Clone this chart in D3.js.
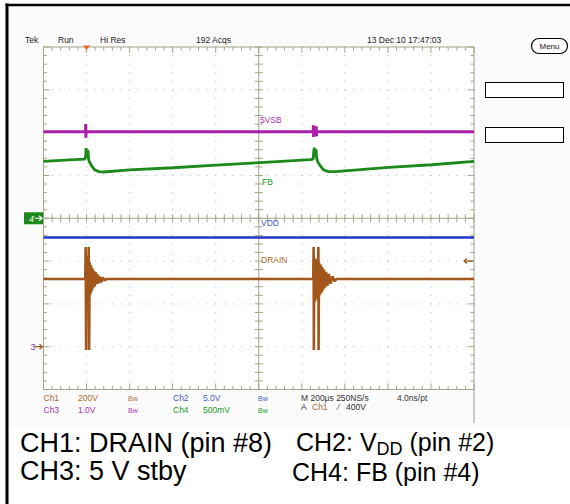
<!DOCTYPE html>
<html><head><meta charset="utf-8">
<script src="https://cdn.jsdelivr.net/npm/d3@7/dist/d3.min.js"></script>
<style>body{margin:0;background:#fff}svg{display:block}</style>
</head><body>
<svg id="chart" width="570" height="504"></svg>
<script>
// ---------------- data ----------------
// time in µs relative to the trigger, 200 µs/div, 10 divisions
const timeDomain = [-200, 1800];
const timeDivisions = [-200, 0, 200, 400, 600, 800, 1000, 1200, 1400, 1600, 1800];
const vertDivisions = [-4, -3, -2, -1, 0, 1, 2, 3, 4];

// channel settings
const channelNames = ["Ch1", "Ch2", "Ch3", "Ch4"];
const traceLabels = ["DRAIN", "VDD", "5VSB", "FB"];
const voltsPerDiv = [200, 5, 1, 0.5];
const groundDiv = [-3, -3, -3, 0];
const channelColors = ["#a2561c", "#2336c2", "#aa1eaa", "#1b8a1b"];
const readoutColors = ["#b06a30", "#4a5ac8", "#b030b0", "#229a2a"];

// CH1 DRAIN (V)
const ch1Drain = [
  [-200, 316], [-6, 316], [-4, 466], [-2, -16], [0, 412], [3, 216], [5, 422], [7.5, 226],
  [10, 466], [12, -16], [14.5, 394], [17.7, 244], [21, 380], [24, 258], [27.5, 366], [31, 272],
  [34.5, 356], [38, 282], [42, 348], [47, 292], [52, 338], [56, 296], [61, 328], [68, 300],
  [75, 324], [84, 310], [94, 316],
  [1053, 316], [1055, 466], [1056, -16], [1058, 416], [1061, 210], [1064, 410], [1067, 220],
  [1070, 400], [1074, 230], [1077, 466], [1078, -16], [1080, 396], [1084, 240], [1088, 384],
  [1092, 252], [1095.5, 372], [1099, 264], [1103.5, 360], [1108, 276], [1113, 350], [1119, 284],
  [1126, 340], [1133, 294], [1143, 328], [1152, 306], [1161, 316], [1800, 316]
];
// CH2 VDD (V)
const ch2Vdd = [[-200, 12.75], [0, 12.75], [600, 12.75], [1060, 12.75], [1800, 12.75]];
// CH3 5 V standby (V)
const ch3Stby = [
  [-200, 5.02], [-5, 5.02], [-4, 5.20], [-3, 4.88], [-2, 5.02],
  [1053, 5.02], [1054, 5.17], [1055, 4.90], [1056, 5.02],
  [1066, 5.02], [1067, 5.15], [1068, 4.92], [1069, 5.02], [1800, 5.02]
];
// CH4 FB (V)
const ch4Fb = [
  [-200, 0.665], [-100, 0.68], [-8, 0.69], [-4, 0.73], [-2, 0.82], [0, 0.70], [6, 0.80],
  [10, 0.68], [14, 0.655], [24, 0.61], [38, 0.565], [56, 0.545], [80, 0.54], [201, 0.565],
  [401, 0.59], [602, 0.62], [807, 0.65], [1040, 0.685], [1053, 0.69], [1055, 0.77],
  [1058, 0.825], [1061, 0.725], [1066, 0.805], [1069, 0.70], [1075, 0.655], [1087, 0.61],
  [1101, 0.565], [1124, 0.545], [1157, 0.545], [1404, 0.595], [1604, 0.625], [1800, 0.665]
];

const triggerTime = 0;
const triggerLevel = 400; // V on Ch1

const headerTexts = ["Tek", "Run", "Hi Res", "192 Acqs", "13 Dec 10 17:47:03"];
const readoutRow1 = ["Ch1", "200V", "Bw", "Ch2", "5.0V", "Bw"];
const readoutRow2 = ["Ch3", "1.0V", "Bw", "Ch4", "500mV", "Bw"];
const horizReadout = ["M 200\u00b5s 250NS/s", "4.0ns/pt"];
const triggerReadout = ["A", "Ch1", "\u2044", "400V"];
const captionLeft = ["CH1: DRAIN (pin #8)", "CH3: 5 V stby"];
const captionRight = ["CH2: V", "DD", " (pin #2)", "CH4: FB (pin #4)"];

// ---------------- drawing ----------------
const svg = d3.select("#chart");
const L = 43.5, R = 474, T = 47, B = 389.5;
const x = d3.scaleLinear().domain(timeDomain).range([L, R]);
const yDiv = d3.scaleLinear().domain([-4, 4]).range([B, T]);
const cx = x(800), cy = yDiv(0);
const scopeFont = "'Liberation Sans Narrow','Liberation Sans',Arial,sans-serif";

// screenshot background
svg.append("rect").attr("x", 8).attr("y", 6).attr("width", 562).attr("height", 420).attr("fill", "#fbfbfb");
svg.append("rect").attr("x", L).attr("y", T).attr("width", R - L).attr("height", B - T).attr("fill", "#fff");

// outer black frame
svg.append("line").attr("x1", 7).attr("x2", 7).attr("y1", 3.5).attr("y2", 504).attr("stroke", "#000").attr("stroke-width", 3);
svg.append("line").attr("x1", 5.5).attr("x2", 570).attr("y1", 5).attr("y2", 5).attr("stroke", "#000").attr("stroke-width", 2.5);

// graticule dots
const g = svg.append("g");
const minorT = d3.range(timeDomain[0], timeDomain[1] + 1, 40);
const minorV = d3.range(-4, 4.001, 0.2);
timeDivisions.slice(1, -1).forEach(t => {
  if (t === 800) return;
  minorV.forEach(v => g.append("rect").attr("x", x(t) - 0.5).attr("y", yDiv(v) - 0.5).attr("width", 1.1).attr("height", 1.1).attr("fill", "#bcbcbc"));
});
vertDivisions.slice(1, -1).forEach(v => {
  if (v === 0) return;
  minorT.forEach(t => g.append("rect").attr("x", x(t) - 0.5).attr("y", yDiv(v) - 0.5).attr("width", 1.1).attr("height", 1.1).attr("fill", "#bcbcbc"));
});
const gridCol = "#a4a488";
// frame
g.append("rect").attr("x", L).attr("y", T).attr("width", R - L).attr("height", B - T).attr("fill", "none").attr("stroke", gridCol).attr("stroke-width", 1);
// center lines
g.append("line").attr("x1", L).attr("x2", R).attr("y1", cy).attr("y2", cy).attr("stroke", gridCol);
g.append("line").attr("x1", cx).attr("x2", cx).attr("y1", T).attr("y2", B).attr("stroke", gridCol);
// ticks
minorT.forEach(t => {
  const major = timeDivisions.includes(t);
  const len = major ? 6 : 3.5;
  g.append("line").attr("x1", x(t)).attr("x2", x(t)).attr("y1", T).attr("y2", T + len).attr("stroke", gridCol);
  g.append("line").attr("x1", x(t)).attr("x2", x(t)).attr("y1", B).attr("y2", B - len).attr("stroke", gridCol);
  g.append("line").attr("x1", x(t)).attr("x2", x(t)).attr("y1", cy - 4).attr("y2", cy + 4).attr("stroke", gridCol);
});
minorV.forEach(v => {
  const major = Math.abs(v - Math.round(v)) < 1e-6;
  const len = major ? 6 : 3.5;
  g.append("line").attr("y1", yDiv(v)).attr("y2", yDiv(v)).attr("x1", L).attr("x2", L + len).attr("stroke", gridCol);
  g.append("line").attr("y1", yDiv(v)).attr("y2", yDiv(v)).attr("x1", R).attr("x2", R - len).attr("stroke", gridCol);
  g.append("line").attr("y1", yDiv(v)).attr("y2", yDiv(v)).attr("x1", cx - 4).attr("x2", cx + 4).attr("stroke", gridCol);
});
// right edge extension
svg.append("line").attr("x1", R).attr("x2", R).attr("y1", B).attr("y2", 423).attr("stroke", "#9a9a9a");

// traces
const traces = [ch1Drain, ch2Vdd, ch3Stby, ch4Fb];
const widths = [2.6, 2.6, 3, 2.8];
const order = [2, 3, 1, 0];
order.forEach(i => {
  const line = d3.line().x(d => x(d[0])).y(d => yDiv(d[1] / voltsPerDiv[i] + groundDiv[i]));
  svg.append("path").datum(traces[i]).attr("d", line).attr("fill", "none")
    .attr("stroke", channelColors[i]).attr("stroke-width", widths[i]).attr("stroke-linejoin", "bevel");
});

// trace labels
const labelY = [262.5, 226, 122.5, 185];
const labelX = [261, 261, 260, 262];
traceLabels.forEach((t, i) => {
  svg.append("text").attr("x", labelX[i]).attr("y", labelY[i]).text(t)
    .attr("font-family", scopeFont).attr("font-size", 8.5).attr("fill", readoutColors[i]);
});

// ground markers
const m4y = yDiv(groundDiv[3]);
svg.append("rect").attr("x", 24).attr("y", m4y - 6).attr("width", 19).attr("height", 12).attr("fill", "#1b8a1b");
svg.append("text").attr("x", 29).attr("y", m4y + 3.5).text("4").attr("font-family", scopeFont).attr("font-size", 9).attr("font-style", "italic").attr("fill", "#fff");
svg.append("path").attr("d", `M35,${m4y}H42M39,${m4y - 2.5}L42,${m4y}L39,${m4y + 2.5}`).attr("stroke", "#fff").attr("fill", "none").attr("stroke-width", 1.2);
const m3y = yDiv(groundDiv[2]);
svg.append("text").attr("x", 30.5).attr("y", m3y + 3.5).text("3").attr("font-family", scopeFont).attr("font-size", 9).attr("fill", "#7040b0");
svg.append("path").attr("d", `M35,${m3y}H42.5M39.5,${m3y - 2.5}L42.5,${m3y}L39.5,${m3y + 2.5}`).attr("stroke", channelColors[0]).attr("fill", "none").attr("stroke-width", 1.2);

// trigger markers
const tx = x(triggerTime);
svg.append("path").attr("d", `M${tx - 3.5},${T - 1.5}L${tx + 3.5},${T - 1.5}L${tx},${T + 3}Z`).attr("fill", "#f06020");
const ty = yDiv(triggerLevel / voltsPerDiv[0] + groundDiv[0]);
svg.append("path").attr("d", `M${R - 1},${ty}H${R - 10}M${R - 7},${ty - 2.5}L${R - 10},${ty}L${R - 7},${ty + 2.5}`).attr("stroke", channelColors[0]).attr("fill", "none").attr("stroke-width", 1.2);

// header
const headerX = [25, 58, 100, 196, 367];
headerTexts.forEach((t, i) => {
  svg.append("text").attr("x", headerX[i]).attr("y", 42.5).text(t)
    .attr("font-family", scopeFont).attr("font-size", 8.5).attr("fill", "#222");
});

// right side menu items
svg.append("rect").attr("x", 531.5).attr("y", 38.5).attr("width", 36).attr("height", 15).attr("rx", 7.5).attr("fill", "#fff").attr("stroke", "#000").attr("stroke-width", 1.2);
svg.append("text").attr("x", 549.5).attr("y", 49).attr("text-anchor", "middle").text("Menu").attr("font-family", scopeFont).attr("font-size", 8).attr("fill", "#111");
[82, 127].forEach(yy => svg.append("rect").attr("x", 485.5).attr("y", yy + 0.5).attr("width", 78).attr("height", 15).attr("fill", "#fff").attr("stroke", "#000").attr("stroke-width", 1));

// bottom readouts
const colX = [43.5, 78, 128, 173, 203, 258];
const row1Col = [0, 0, 0, 1, 1, 1];
const row2Col = [2, 2, 2, 3, 3, 3];
readoutRow1.forEach((t, i) => svg.append("text").attr("x", colX[i]).attr("y", 400.5).text(t)
  .attr("font-family", scopeFont).attr("font-size", t === "Bw" ? 7 : 8.5).attr("fill", readoutColors[row1Col[i]]));
readoutRow2.forEach((t, i) => svg.append("text").attr("x", colX[i]).attr("y", 412.5).text(t)
  .attr("font-family", scopeFont).attr("font-size", t === "Bw" ? 7 : 8.5).attr("fill", readoutColors[row2Col[i]]));
const hX = [301, 397];
horizReadout.forEach((t, i) => svg.append("text").attr("x", hX[i]).attr("y", 401).text(t)
  .attr("font-family", scopeFont).attr("font-size", 8.5).attr("fill", "#333"));
const trX = [301, 312, 338, 346];
triggerReadout.forEach((t, i) => svg.append("text").attr("x", trX[i]).attr("y", 409.5).text(t)
  .attr("font-family", scopeFont).attr("font-size", 8.5).attr("fill", i === 1 ? readoutColors[0] : "#333"));

// caption
const capFont = "'Liberation Sans',Arial,sans-serif";
svg.append("text").attr("x", 20).attr("y", 452).text(captionLeft[0]).attr("font-family", capFont).attr("font-size", 27).attr("fill", "#000");
svg.append("text").attr("x", 20).attr("y", 480).text(captionLeft[1]).attr("font-family", capFont).attr("font-size", 27).attr("fill", "#000");
const c2 = svg.append("text").attr("x", 296).attr("y", 451).attr("font-family", capFont).attr("font-size", 25).attr("fill", "#000");
c2.append("tspan").text(captionRight[0]);
c2.append("tspan").attr("dy", 4).attr("font-size", 18).text(captionRight[1]);
c2.append("tspan").attr("dy", -4).text(captionRight[2]);
svg.append("text").attr("x", 292).attr("y", 481).text(captionRight[3]).attr("font-family", capFont).attr("font-size", 25).attr("fill", "#000");
</script>
</body></html>
